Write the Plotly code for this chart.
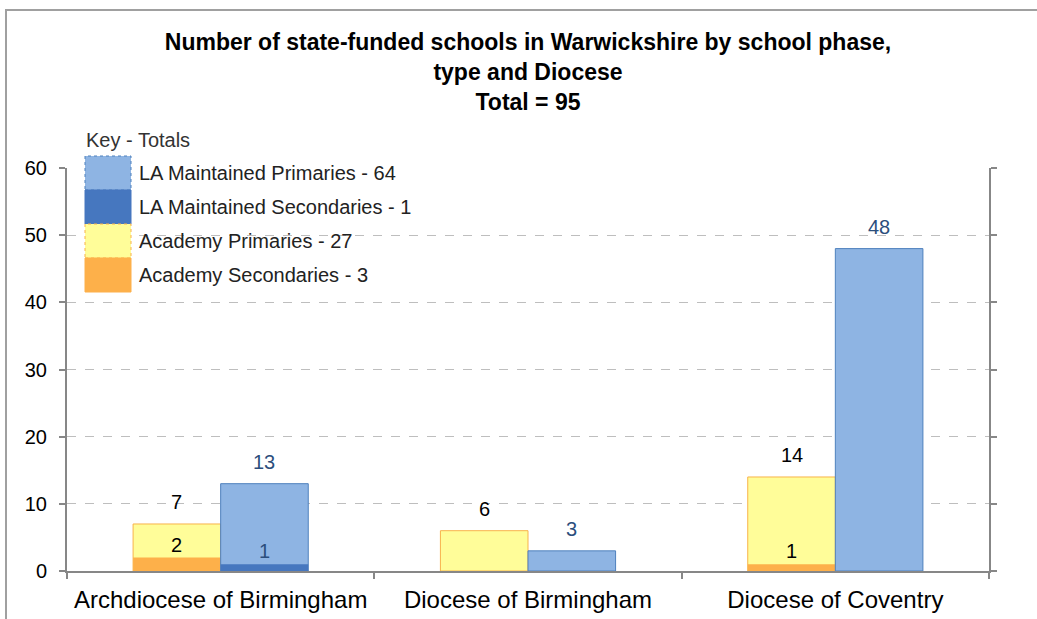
import plotly.graph_objects as go

categories = ["Archdiocese of Birmingham", "Diocese of Birmingham", "Diocese of Coventry"]
academy_primaries = [7, 6, 14]
academy_secondaries = [2, None, 1]
la_primaries = [13, 3, 48]
la_secondaries = [1, None, None]
legend_labels = ["LA Maintained Primaries - 64", "LA Maintained Secondaries - 1",
                 "Academy Primaries - 27", "Academy Secondaries - 3"]
y_ticks = [0, 10, 20, 30, 40, 50, 60]

FONT = "Liberation Sans, Arial, sans-serif"
C_LA_P = "#8EB4E3"
C_LA_S = "#4677BF"
C_AC_P = "#FFFD99"
C_AC_S = "#FDB04A"
BARGAP = 0.43

W, H = 1037, 619
ML, MR, MT, MB = 67, 48, 168, 48
PW, PH = W - ML - MR, H - MT - MB


def px(x):
    return (x - ML) / PW


def py(y):
    return (H - MB - y) / PH


fig = go.Figure()
fig.add_bar(x=categories, y=academy_primaries, offsetgroup="ac", marker=dict(color=C_AC_P, line=dict(color="#F8B34A", width=1)),
            name=legend_labels[2], showlegend=False)
fig.add_bar(x=categories, y=academy_secondaries, offsetgroup="ac", marker=dict(color=C_AC_S, line=dict(width=0)),
            name=legend_labels[3], showlegend=False)
fig.add_bar(x=categories, y=la_primaries, offsetgroup="la", marker=dict(color=C_LA_P, line=dict(color="#4F81BD", width=1)),
            name=legend_labels[0], showlegend=False)
fig.add_bar(x=categories, y=la_secondaries, offsetgroup="la", marker=dict(color=C_LA_S, line=dict(width=0)),
            name=legend_labels[1], showlegend=False)

half = (1 - BARGAP) / 4
annotations = []
for series, off, color, shift in [(academy_primaries, -half, "#000000", 22),
                                  (academy_secondaries, -half, "#000000", 13),
                                  (la_primaries, half, "#2B4E7C", 22),
                                  (la_secondaries, half, "#2B4E7C", 13)]:
    for i, v in enumerate(series):
        if v is None:
            continue
        annotations.append(dict(x=i + off, y=v, xref="x", yref="y", text=str(v), showarrow=False,
                                yanchor="middle", yshift=shift, font=dict(family=FONT, size=20, color=color)))

# Custom key
annotations.append(dict(x=px(84), y=py(140), xref="paper", yref="paper", text="Key - Totals", showarrow=False,
                        xanchor="left", yanchor="middle", font=dict(family=FONT, size=20, color="#333333")))
key_colors = [C_LA_P, C_LA_S, C_AC_P, C_AC_S]
key_lines = ["#4F81BD", None, "#F8B34A", None]
shapes = []
top = 156
for k, (lab, col, lc) in enumerate(zip(legend_labels, key_colors, key_lines)):
    y0 = top + 34 * k
    y1 = y0 + 34
    shapes.append(dict(type="rect", xref="paper", yref="paper", x0=px(85), x1=px(131), y0=py(y1), y1=py(y0),
                       fillcolor=col, line=dict(color=lc if lc else col, width=1, dash="dot" if lc else "solid"),
                       layer="above"))
    annotations.append(dict(x=px(137), y=py((y0 + y1) / 2), xref="paper", yref="paper", text=lab, showarrow=False,
                            xanchor="left", yanchor="middle", font=dict(family=FONT, size=20, color="#222222")))

# Outer frame
shapes.append(dict(type="rect", xref="paper", yref="paper", x0=px(6), x1=px(1100), y0=py(700), y1=py(10),
                   line=dict(color="#A0A0A0", width=2), fillcolor="rgba(0,0,0,0)", layer="below"))

fig.update_layout(
    width=W, height=H,
    margin=dict(l=ML, r=MR, t=MT, b=MB, autoexpand=False),
    paper_bgcolor="white", plot_bgcolor="white",
    barmode="group", bargap=BARGAP, bargroupgap=0,
    title=dict(text="<b>Number of state-funded schools in Warwickshire by school phase,<br>type and Diocese<br>Total = 95</b>",
               x=px(528), xref="paper", xanchor="center", y=1 - 50 / H, yref="container", yanchor="middle",
               font=dict(family=FONT, size=23, color="#000000"), automargin=False),
    annotations=annotations,
    shapes=shapes,
    showlegend=False,
)
fig.update_xaxes(showline=True, linecolor="#878787", linewidth=2, ticks="outside", tickson="boundaries",
                 ticklen=6, tickcolor="#878787", tickwidth=1.5, showgrid=False, ticklabelstandoff=6,
                 automargin=False,
                 tickfont=dict(family=FONT, size=24, color="#000000"))
fig.update_yaxes(range=[0, 60], tickvals=y_ticks, showline=True, linecolor="#878787", linewidth=2,
                 mirror="ticks", ticks="outside", ticklen=6, tickcolor="#878787", tickwidth=1.5,
                 showgrid=True, gridcolor="#BEBEBE", griddash="dash", gridwidth=1, zeroline=False,
                 ticklabelstandoff=8, automargin=False,
                 tickfont=dict(family=FONT, size=20, color="#000000"))

fig.write_html("out.html")
